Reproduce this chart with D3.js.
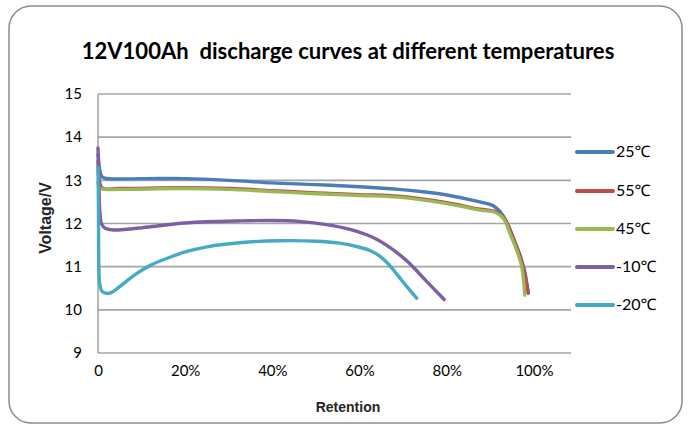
<!DOCTYPE html>
<html><head><meta charset="utf-8">
<script src="https://cdn.jsdelivr.net/npm/d3@7/dist/d3.min.js"></script>
<style>body{margin:0;background:#fff}svg{display:block}</style>
</head><body><svg id="c" width="689" height="428"></svg>
<script>
const title = "12V100Ah  discharge curves at different temperatures";
const seriesNames = ["25℃","55℃","45℃","-10℃","-20℃"];
const colors = ["#4a7ebb","#be4b48","#98b954","#7d60a0","#46aac5"];
const yTicks = [9,10,11,12,13,14,15];
const xTicks = [0,0.2,0.4,0.6,0.8,1.0];
const xTickLabels = ["0","20%","40%","60%","80%","100%"];

const s25 = [[0,13.6],[0.003,13.3],[0.008,13.1],[0.015,13.05],[0.1,13.04],[0.2,13.04],[0.3,13.0],[0.4,12.94],[0.5,12.9],[0.6,12.85],[0.69,12.79],[0.75,12.73],[0.8,12.66],[0.876,12.5],[0.905,12.42],[0.922,12.28],[0.937,12.04],[0.953,11.66],[0.968,11.27],[0.979,10.88],[0.987,10.38]];
const s55 = [[0,13.45],[0.003,13.0],[0.01,12.82],[0.05,12.81],[0.2,12.83],[0.3,12.81],[0.4,12.76],[0.5,12.71],[0.6,12.67],[0.69,12.63],[0.8,12.48],[0.876,12.33],[0.91,12.28],[0.93,12.15],[0.947,11.8],[0.962,11.4],[0.975,11.0],[0.987,10.4]];
const s45 = [[0,12.95],[0.003,12.85],[0.01,12.8],[0.05,12.79],[0.2,12.81],[0.3,12.79],[0.4,12.74],[0.5,12.69],[0.6,12.65],[0.69,12.61],[0.8,12.46],[0.876,12.31],[0.91,12.26],[0.93,12.12],[0.945,11.77],[0.96,11.39],[0.972,11.0],[0.979,10.34]];
const sm10 = [[0,13.75],[0.002,13.2],[0.004,12.3],[0.008,12.0],[0.015,11.9],[0.035,11.85],[0.06,11.86],[0.1,11.9],[0.15,11.96],[0.2,12.01],[0.25,12.04],[0.33,12.06],[0.4,12.07],[0.46,12.05],[0.52,11.98],[0.58,11.86],[0.63,11.68],[0.67,11.44],[0.71,11.12],[0.75,10.7],[0.794,10.24]];
const sm20 = [[0,13.3],[0.001,12.5],[0.002,11.0],[0.004,10.6],[0.01,10.42],[0.02,10.38],[0.03,10.4],[0.045,10.5],[0.065,10.66],[0.09,10.85],[0.12,11.03],[0.16,11.2],[0.2,11.34],[0.25,11.46],[0.33,11.56],[0.417,11.6],[0.5,11.59],[0.55,11.55],[0.6,11.45],[0.625,11.37],[0.647,11.24],[0.67,11.02],[0.69,10.77],[0.71,10.52],[0.731,10.27]];
const seriesData = [s25,s55,s45,sm10,sm20];

const svg = d3.select("#c");
svg.append("rect").attr("x",9).attr("y",6).attr("width",673).attr("height",417)
  .attr("rx",22).attr("fill","#fff").attr("stroke","#8c8c8c").attr("stroke-width",1.5);

const x = d3.scaleLinear().domain([0,1.085]).range([98,571]);
const y = d3.scaleLinear().domain([9,15]).range([353,94]);

const g = svg.append("g");
g.selectAll("line.grid").data(yTicks).join("line")
  .attr("x1",x(0)).attr("x2",x(1.085)).attr("y1",d=>y(d)).attr("y2",d=>y(d))
  .attr("stroke","#a6a6a6").attr("stroke-width",1.6);
g.append("line").attr("x1",x(0)).attr("x2",x(0)).attr("y1",y(15)).attr("y2",y(9))
  .attr("stroke","#a6a6a6").attr("stroke-width",1.6);

const yAxis = d3.axisLeft(y).tickValues(yTicks).tickSize(0).tickPadding(16).tickFormat(d3.format("d"));
const ya = svg.append("g").attr("transform",`translate(${x(0)},0)`).call(yAxis);
ya.select(".domain").remove();
ya.selectAll("text").attr("font-family","Lato, 'Noto Sans', sans-serif").attr("font-size",15).attr("fill","#000");

const xAxis = d3.axisBottom(x).tickValues(xTicks).tickSize(0).tickPadding(12).tickFormat((d,i)=>xTickLabels[i]);
const xa = svg.append("g").attr("transform",`translate(0,${y(9)})`).call(xAxis);
xa.select(".domain").remove();
xa.selectAll("text").attr("font-family","Lato, 'Noto Sans', sans-serif").attr("font-size",15).attr("fill","#000");

const line = d3.line().x(d=>x(d[0])).y(d=>y(d[1])).curve(d3.curveCatmullRom.alpha(0.5));
svg.append("g").selectAll("path").data(seriesData).join("path")
  .attr("d",line).attr("fill","none").attr("stroke",(d,i)=>colors[i])
  .attr("stroke-width",3.4).attr("stroke-linejoin","round").attr("stroke-linecap","round");

const t = svg.append("text").attr("x",348).attr("y",59).attr("text-anchor","middle")
  .attr("font-family","Lato, 'Noto Sans', sans-serif").attr("font-weight","bold").attr("font-size",20)
  .attr("fill","#000").attr("xml:space","preserve").style("white-space","pre").text(title);
const tw = t.node().getComputedTextLength();
t.attr("font-size", 20*533/tw);

svg.append("text").attr("transform","translate(51,218) rotate(-90)").attr("text-anchor","middle")
  .attr("font-family","'Liberation Sans', Arial, sans-serif").attr("font-weight","bold").attr("font-size",16)
  .attr("fill","#262626").text("Voltage/V");
svg.append("text").attr("x",348).attr("y",412).attr("text-anchor","middle")
  .attr("font-family","'Liberation Sans', Arial, sans-serif").attr("font-weight","bold").attr("font-size",14)
  .attr("fill","#262626").text("Retention");

const legY = [152,191,229,267,305];
const leg = svg.append("g").selectAll("g").data(seriesNames).join("g")
  .attr("transform",(d,i)=>`translate(577,${legY[i]})`);
leg.append("line").attr("x1",0).attr("x2",36).attr("y1",0).attr("y2",0)
  .attr("stroke",(d,i)=>colors[i]).attr("stroke-width",4).attr("stroke-linecap","round");
leg.append("text").attr("x",39).attr("y",1).attr("dominant-baseline","middle")
  .attr("font-family","Lato, 'Noto Sans', 'Noto Sans CJK SC', sans-serif").attr("font-size",16)
  .attr("fill","#000").text(d=>d);
</script></body></html>
